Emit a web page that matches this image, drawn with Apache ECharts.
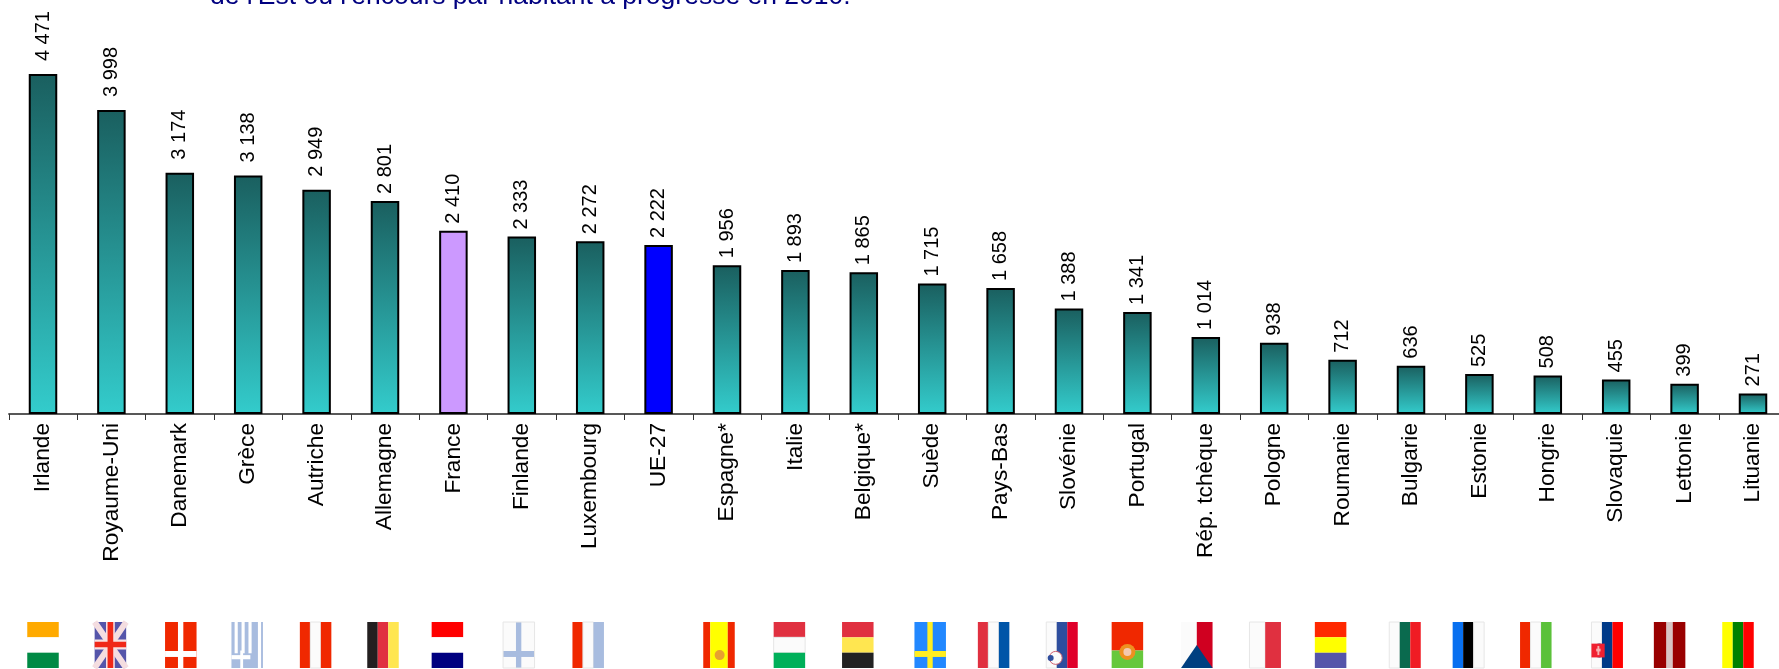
<!DOCTYPE html>
<html><head><meta charset="utf-8">
<style>html,body{margin:0;padding:0;background:#fff;overflow:hidden}#c{width:1779px;height:669px}</style>
<script src="https://cdn.jsdelivr.net/npm/echarts@6/dist/echarts.min.js"></script>
</head><body><div id="c"></div>
<script>
const titleLine = "de l'Est où l'encours par habitant a progressé en 2010.";
const categories = ["Irlande","Royaume-Uni","Danemark","Grèce","Autriche","Allemagne","France","Finlande","Luxembourg","UE-27","Espagne*","Italie","Belgique*","Suède","Pays-Bas","Slovénie","Portugal","Rép. tchèque","Pologne","Roumanie","Bulgarie","Estonie","Hongrie","Slovaquie","Lettonie","Lituanie"];
const values = [4471,3998,3174,3138,2949,2801,2410,2333,2272,2222,1956,1893,1865,1715,1658,1388,1341,1014,938,712,636,525,508,455,399,271];
const highlight = {"France":"#CC99FF","UE-27":"#0000FF"};
// flag designs: [direction, stripe colours, optional extra]
const flags = [
 ["h",["#FFAA00","#FFFFFF","#008A45"]],
 ["uk",["#5555AA"]],
 ["cross",["#F02800","#FFFFFF"]],
 ["greece",["#A8BCDF","#FFFFFF"]],
 ["v",["#F02800","#FBFBFB","#F02800"]],
 ["v",["#231F20","#E03040","#FFE650"]],
 ["h",["#FF0000","#FFFFFF","#000080"]],
 ["cross",["#FBFBFB","#A8BCDF"]],
 ["v",["#F02800","#FBFBFB","#A8BCDF"]],
 null,
 ["spain",["#F02800","#FFFF00","#F02800"]],
 ["h",["#E03040","#FBFBFB","#00B05A"]],
 ["h",["#E03040","#FFE650","#222222"]],
 ["cross",["#2288FF","#FFEE22"]],
 ["v",["#E03040","#FBFBFB","#0055A8"]],
 ["slovenia",["#FBFBFB","#2E4E9E","#E0002A"]],
 ["portugal",["#F02800","#66C83C"]],
 ["czech",["#FBFBFB","#D00020","#004080"]],
 ["v",["#FBFBFB","#E03040"]],
 ["h",["#FF2800","#FFFF00","#5555AA"]],
 ["v",["#FBFBFB","#0A6A4E","#F01C24"]],
 ["v",["#0870F0","#000000","#FBFBFB"]],
 ["v",["#F02800","#FBFBFB","#5BC13A"]],
 ["slovakia",["#FBFBFB","#003A88","#FF0000"]],
 ["lat",["#990000","#D8C4C4","#990000"]],
 ["v",["#FFFF00","#008000","#FF0000"]]
];
// flag row does not sit exactly under the bars: horizontal nudge per flag, in px
const flagNudge = [0,-1,1,-1,-1,-2,-6,-3,-2,0,-8,-6,-6,-2,-7,-7,-10,-9,-9,-12,-6,-11,-12,-9,-15,-15];
const FONT = '"Liberation Sans", Arial, sans-serif';
const FLAG_TOP = 622, FLAG_W = 31.5, FLAG_H = 46;

function stripes(x,y,w,h,cols,dir,sizes){
  const out=[]; let p=0; const sum=sizes?sizes.reduce((a,b)=>a+b,0):cols.length;
  cols.forEach((c,i)=>{const s=(sizes?sizes[i]:1)/sum;
    const style={fill:c}; if(c==='#FBFBFB'){style.stroke='#E6E6E6';style.lineWidth=1;}
    out.push(dir==='v'?{type:'rect',shape:{x:x+p*w,y,width:s*w,height:h},style}
                      :{type:'rect',shape:{x,y:y+p*h,width:w,height:s*h},style});
    p+=s;});
  return out;
}
function drawFlag(f,x,y,w,h){
  const [k,c]=f; const r=(a,b,ww,hh,col)=>({type:'rect',shape:{x:x+a*w,y:y+b*h,width:ww*w,height:hh*h},style:{fill:col}});
  const line=(a,b,a2,b2,col,lw)=>({type:'line',shape:{x1:x+a*w,y1:y+b*h,x2:x+a2*w,y2:y+b2*h},style:{stroke:col,lineWidth:lw}});
  const dot=(a,b,rad,col,st)=>({type:'circle',shape:{cx:x+a*w,cy:y+b*h,r:rad},style:{fill:col,stroke:st||null,lineWidth:1}});
  if(k==='h') return stripes(x,y,w,h,c,'h');
  if(k==='v') return stripes(x,y,w,h,c,'v');
  if(k==='lat') return stripes(x,y,w,h,c,'v',[2,1,2]);
  if(k==='spain') return stripes(x,y,w,h,c,'v',[2,5,2]).concat([dot(.52,.72,5,'#E8A030')]);
  if(k==='cross'){const o=[r(0,0,1,1,c[0]),r(.41,0,.17,1,c[1]),r(0,.63,1,.13,c[1])];if(c[0]==='#FBFBFB')o.push({type:'rect',shape:{x,y,width:w,height:h},style:{fill:null,stroke:'#E6E6E6',lineWidth:1}});return o;}
  if(k==='uk') return [r(0,0,1,1,c[0]),line(0,0,1,1,'#F4DDE0',6),line(1,0,0,1,'#F4DDE0',6),r(.36,0,.28,1,'#F8E0E0'),r(0,.38,1,.22,'#F8E0E0'),r(.41,0,.18,1,'#F02818'),r(0,.43,1,.12,'#F02818')];
  if(k==='greece'){const o=[r(0,0,1,1,c[0])];[.1,.32,.54,.84].forEach(a=>o.push(r(a,0,.1,a<.6?.68:1,c[1])));o.push(r(0,.72,.6,.09,c[1]),r(.28,.62,.09,.38,c[1]));return o;}
  if(k==='slovenia') return stripes(x,y,w,h,c,'v').concat([dot(.3,.78,6.5,'#FBFBFB','#D06070'),dot(.14,.78,3,'#2E4E9E')]);
  if(k==='portugal') return stripes(x,y,w,h,c,'h',[62,38]).concat([dot(.5,.65,8,'#EE9020'),dot(.5,.65,4,'#F4C8B0')]);
  if(k==='czech') return [r(0,0,.5,1,c[0]),r(.5,0,.5,1,c[1]),{type:'polygon',shape:{points:[[x,y+h],[x+.5*w,y+.5*h],[x+w,y+h]]},style:{fill:c[2]}}];
  if(k==='slovakia') return stripes(x,y,w,h,c,'v').concat([dot(.25,.62,7,'#003A88'),r(0,.47,.42,.3,'#F02030'),r(.15,.58,.14,.06,'#F8B0B0'),r(.19,.52,.06,.2,'#F8B0B0')]);
  return [];
}

const chart = echarts.init(document.getElementById('c'),null,{renderer:'canvas'});
chart.setOption({
  animation:false,
  backgroundColor:'#fff',
  title:{text:titleLine,left:210,top:-17,padding:0,textStyle:{color:'#000080',fontFamily:FONT,fontSize:26.5,fontWeight:'normal'}},
  grid:{left:8.8,top:0,width:1778.4,height:414,outerBoundsMode:'none',containLabel:false},
  xAxis:{type:'category',data:categories,boundaryGap:true,
    axisLine:{lineStyle:{color:'#222',width:1.5}},
    axisTick:{show:true,alignWithLabel:false,length:6,lineStyle:{color:'#333',width:1}},
    axisLabel:{interval:0,rotate:90,margin:9,color:'#000',fontFamily:FONT,fontSize:22.7}},
  yAxis:{type:'value',min:0,max:5445,show:false,splitLine:{show:false}},
  series:[{
    type:'bar',barWidth:28.5,
    data:values.map((v,i)=>({value:v,
      label:{distance:v>=2900?13:7},
      itemStyle:{
      color:highlight[categories[i]]||new echarts.graphic.LinearGradient(0,0,0,1,[{offset:0,color:'#1A5F5F'},{offset:1,color:'#33CCCC'}]),
      borderColor:'#000',borderWidth:2}})),
    label:{show:true,position:'top',rotate:90,align:'left',verticalAlign:'middle',color:'#000',fontFamily:FONT,fontSize:20,
      formatter:p=>{const s=String(p.value);return s.length>3?s.slice(0,-3)+'\u00a0'+s.slice(-3):s;}}
  },{
    type:'custom',silent:true,clip:false,
    data:categories.map((c,i)=>[i,0]),
    renderItem:(params,api)=>{
      const i=api.value(0), f=flags[i]; if(!f) return {type:'group',children:[]};
      const cx=api.coord([i,0])[0]+flagNudge[i];
      return {type:'group',children:drawFlag(f,cx-FLAG_W/2,FLAG_TOP,FLAG_W,FLAG_H)};
    }
  }]
});
</script></body></html>
